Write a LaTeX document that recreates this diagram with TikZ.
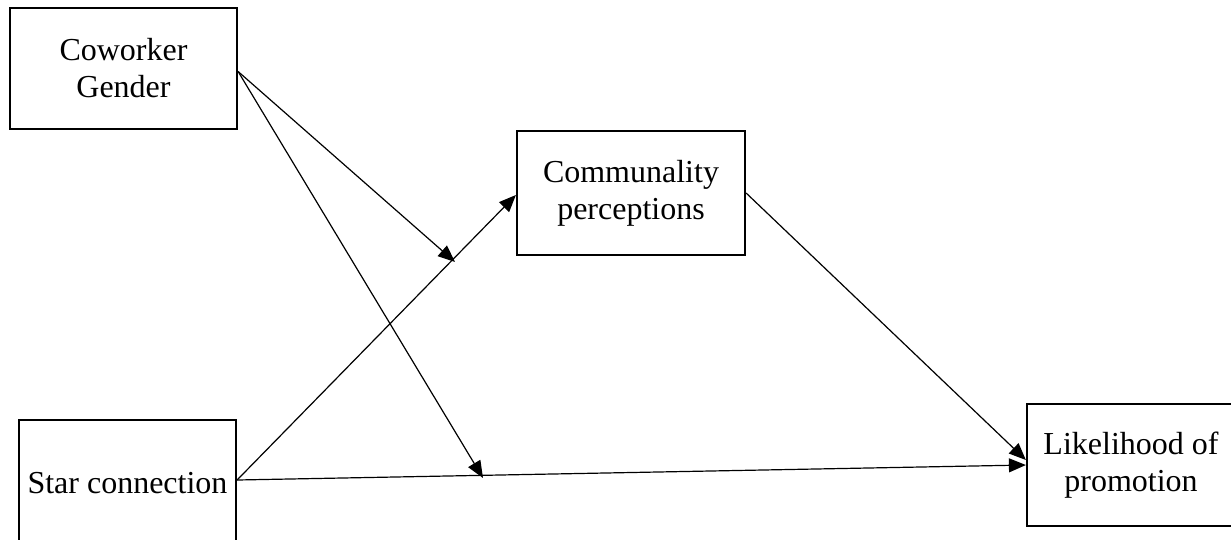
\documentclass[tikz,border=0pt]{standalone}
\usepackage{fontspec}
\setmainfont{Liberation Serif}
\usetikzlibrary{arrows.meta}
\begin{document}
\begin{tikzpicture}[x=1pt,y=-1pt,
  varbox/.style={draw, line width=2.2pt, align=center, inner sep=0pt,
    font=\fontsize{32}{37}\selectfont},
  link/.style={line width=1.2pt, -{Triangle[length=17pt,width=14pt]}}]
\useasboundingbox (0,0) rectangle (1231,539);
\clip (0,0) rectangle (1231,539);
\node[varbox, minimum width=227pt, minimum height=121pt] (cg) at (123.5,68.5) {Coworker\\Gender};
\node[varbox, minimum width=228pt, minimum height=124pt] (comm) at (631,193) {Communality\\perceptions};
\node[varbox, minimum width=217pt, minimum height=126pt] (star) at (127.5,483) {Star connection};
\node[varbox, minimum width=208pt, minimum height=122pt] (lik) at (1131,465) {Likelihood of\\promotion};
\coordinate (m1) at (455,262);
\coordinate (m2) at (483,478);
\draw[link] ([yshift=-3pt]cg.east) -- (m1);
\draw[link] ([yshift=-3pt]cg.east) -- (m2);
\draw[link] ([yshift=3pt]star.east) -- ([yshift=-2pt]comm.west);
\draw[link] ([yshift=3pt]star.east) -- (lik.west);
\draw[link] (comm.east) -- ([yshift=5pt]lik.west);
\end{tikzpicture}
\end{document}
